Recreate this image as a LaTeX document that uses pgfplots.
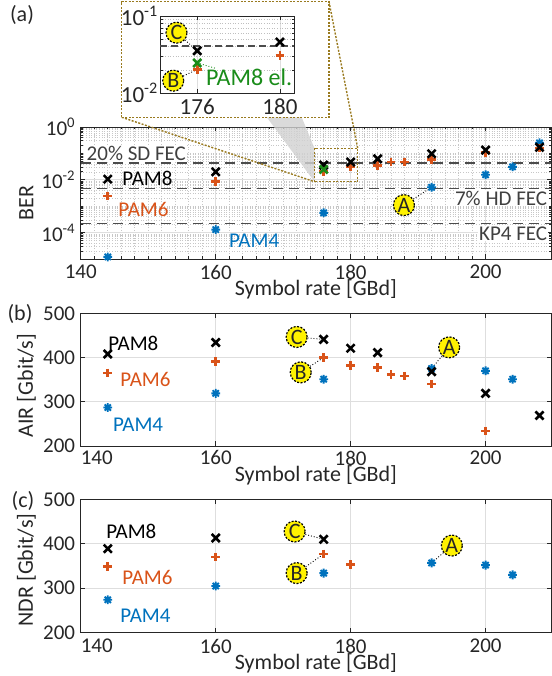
\documentclass[border=0pt]{standalone}
\usepackage{fontspec}
\setmainfont{Carlito}
\usepackage{pgfplots}
\pgfplotsset{compat=1.18}

\definecolor{mblue}{rgb}{0,0.447,0.741}
\definecolor{morange}{rgb}{0.85,0.325,0.098}
\definecolor{mgreen}{rgb}{0.1,0.55,0.1}
\definecolor{boxbrown}{rgb}{0.6,0.48,0.12}

\newcommand\fs{\fontsize{21}{25}\selectfont}
\newcommand\fl{\fontsize{22}{26}\selectfont}

% MATLAB style asterisk (8 arms)
\pgfdeclareplotmark{ast8}{%
  \pgfpathmoveto{\pgfqpoint{-\pgfplotmarksize}{0pt}}%
  \pgfpathlineto{\pgfqpoint{\pgfplotmarksize}{0pt}}%
  \pgfpathmoveto{\pgfqpoint{0pt}{-\pgfplotmarksize}}%
  \pgfpathlineto{\pgfqpoint{0pt}{\pgfplotmarksize}}%
  \pgfpathmoveto{\pgfqpoint{-.7071\pgfplotmarksize}{-.7071\pgfplotmarksize}}%
  \pgfpathlineto{\pgfqpoint{.7071\pgfplotmarksize}{.7071\pgfplotmarksize}}%
  \pgfpathmoveto{\pgfqpoint{-.7071\pgfplotmarksize}{.7071\pgfplotmarksize}}%
  \pgfpathlineto{\pgfqpoint{.7071\pgfplotmarksize}{-.7071\pgfplotmarksize}}%
  \pgfusepathqstroke}

\pgfplotsset{
  base/.style={
    scale only axis, clip=false,
    width=470.2pt, xmin=140, xmax=209.7,
    axis line style={draw=black!85, line width=0.8pt},
    every tick/.style={black!85, line width=0.8pt},
    major tick length=4.5pt, minor tick length=2.5pt, tick align=inside,
    major grid style={black!13, line width=0.8pt},
    minor grid style={black!22, line width=0.6pt, dotted},
    xmajorgrids, ymajorgrids,
    xtick={140,160,180,200},
    ticklabel style={font=\fs, text=black!85},
    xticklabel style={inner sep=0pt, yshift=-6pt},
    yticklabel style={inner sep=0pt, xshift=-5.5pt},
    label style={font=\fl, text=black!85, inner sep=0pt},
  },
  p8/.style={only marks, mark=x, mark size=5.7pt, line width=2.6pt, black},
  p6/.style={only marks, mark=+, mark size=4.3pt, line width=2.6pt, morange},
  p4/.style={only marks, mark=ast8, mark size=4.4pt, line width=1.9pt, mblue},
  fec/.style={black!70, line width=1.8pt, dash pattern=on 10pt off 6pt},
}
\tikzset{
  lab/.style={font=\fs, inner sep=1pt},
  circ/.style={circle, fill=yellow, draw=black, line width=1.2pt,
    dash pattern=on 2pt off 1.5pt, minimum size=21pt, inner sep=0pt,
    font=\fl, text=black!85},
  conn/.style={black, line width=0.9pt, dotted, shorten >=3pt},
}

\begin{document}
\begin{tikzpicture}[x=1pt,y=1pt]
\useasboundingbox (0,0) rectangle (551,676);

% ---------------- (a) BER ----------------
\begin{axis}[base, at={(80.8pt,417pt)}, anchor=south west, height=132pt,
  ymode=log, ymin=1e-5, ymax=1,
  ytick={1e-4,1e-2,1},
  yticklabels={10\textsuperscript{-4},10\textsuperscript{-2},10\textsuperscript{0}},
  minor ytick={2e-5,3e-5,4e-5,5e-5,6e-5,7e-5,8e-5,9e-5,
    2e-4,3e-4,4e-4,5e-4,6e-4,7e-4,8e-4,9e-4,1e-3,
    2e-3,3e-3,4e-3,5e-3,6e-3,7e-3,8e-3,9e-3,
    2e-2,3e-2,4e-2,5e-2,6e-2,7e-2,8e-2,9e-2,1e-1,
    2e-1,3e-1,4e-1,5e-1,6e-1,7e-1,8e-1,9e-1},
  yminorgrids, xminorgrids, minor x tick num=9,
  xticklabels={140,160,180,200},
  xlabel={Symbol rate [GBd]},
  xlabel style={at={(axis description cs:0.5,-0.232)}, anchor=center},
  ylabel={BER},
  ylabel style={at={(axis description cs:-0.1157,0.424)}, anchor=center},
]
\addplot[fec] coordinates {(140,0.042)(209.7,0.042)};
\addplot[fec] coordinates {(140,4.7e-3)(209.7,4.7e-3)};
\addplot[fec] coordinates {(140,2.2e-4)(209.7,2.2e-4)};

\addplot[p4] coordinates {(144,1.2e-5)(160,1.3e-4)(176,5.6e-4)(192,5.2e-3)(200,0.0155)(204,0.031)(208,0.25)};
\addplot[p6] coordinates {(144,0.0024)(160,0.0084)(176,0.0203)(180,0.031)(184,0.035)(186,0.047)(188,0.048)(192,0.06)(200,0.106)(208,0.16)};
\addplot[p8] coordinates {(144,0.0106)(160,0.020)(176,0.036)(180,0.047)(184,0.062)(192,0.097)(200,0.133)(208,0.17)};
\addplot[p8, mgreen] coordinates {(176,0.0247)};

\node[lab, anchor=west, fill=white, text=black!75] at (axis cs:140.7,0.1) {20\% SD FEC};
\node[lab, anchor=east, fill=white, text=black!75] at (axis cs:209.3,2.0e-3) {7\% HD FEC};
\node[lab, anchor=east, fill=white, text=black!75] at (axis cs:209.3,9.3e-5) {KP4 FEC};
\node[lab, anchor=west, text=black] at (axis cs:146,0.0116) {PAM8};
\node[lab, anchor=west, text=morange] at (axis cs:145.4,7.4e-4) {PAM6};
\node[lab, anchor=west, text=mblue] at (axis cs:161.8,5.1e-5) {PAM4};
\node[circ] (A) at (axis cs:187.9,1.1e-3) {A};
\draw[conn] (A) -- (axis cs:192,5.2e-3);
\end{axis}

% zoom wedge, boxes and connectors
\fill[black!18, opacity=0.8] (266.8,558.7) -- (301.7,558.7) -- (314.5,527.7) -- (314.5,494.3) -- cycle;
\draw[boxbrown, line width=1.4pt, dash pattern=on 2pt off 1.5pt] (314.5,494.3) rectangle (357.7,527.7);
\draw[boxbrown, line width=1.4pt, dash pattern=on 2pt off 1.5pt] (121.7,558.7) -- (314.5,494.3);
\draw[boxbrown, line width=1.4pt, dash pattern=on 2pt off 1.5pt] (329,674.3) -- (357.7,527.7);
\draw[boxbrown, fill=white, line width=1.4pt, dash pattern=on 2pt off 1.5pt] (121.7,558.7) rectangle (329,674.3);

% ---------------- inset ----------------
\begin{axis}[at={(160pt,582.7pt)}, anchor=south west, scale only axis, clip=false,
  width=134pt, height=77.3pt,
  xmin=174.2, xmax=180.68, ymode=log, ymin=0.01, ymax=0.1,
  axis background/.style={fill=white},
  axis line style={draw=black!85, line width=0.8pt},
  every tick/.style={black!85, line width=0.8pt},
  major tick length=4pt, minor tick length=2.5pt, tick align=inside,
  major grid style={black!13, line width=0.8pt},
  minor grid style={black!25, line width=0.6pt, dotted},
  xmajorgrids, yminorgrids,
  xtick={176,180}, xticklabels={176,180},
  ytick={0.01,0.1}, yticklabels={10\textsuperscript{-2},10\textsuperscript{-1}},
  minor ytick={0.02,0.03,0.04,0.05,0.06,0.07,0.08,0.09},
  ticklabel style={font=\fontsize{23}{27}\selectfont, text=black!85, inner sep=1pt},
  yticklabel style={xshift=-1pt},
  xticklabel style={yshift=-4pt},
]
\addplot[black!70, line width=1.6pt, dash pattern=on 7pt off 4pt] coordinates {(174.2,0.041)(180.68,0.041)};
\addplot[p6] coordinates {(176,0.0203)(180,0.031)};
\addplot[p8] coordinates {(176,0.0355)(180,0.046)};
\addplot[p8, mgreen] coordinates {(176,0.0247)};
\node[circ] (C) at (axis cs:175.0,0.0608) {C};
\node[circ] (B) at (axis cs:174.84,0.01456) {B};
\draw[conn] (C) -- (axis cs:176,0.0355);
\draw[conn] (B) -- (axis cs:176,0.0203);
\node[anchor=west, inner sep=1pt, font=\fontsize{24}{28}\selectfont, text=mgreen] at (axis cs:176.37,0.0162) {PAM8 el.};
\draw[mgreen, line width=0.9pt, dotted, shorten <=3pt] (axis cs:176,0.0247) -- (axis cs:176.9,0.021);
\end{axis}

% ---------------- (b) AIR ----------------
\begin{axis}[base, at={(80.8pt,230pt)}, anchor=south west, height=132.7pt,
  ymin=200, ymax=500, ytick={200,300,400,500}, yticklabels={200,300,400,500},
  xticklabels={\makebox[0pt][l]{140},160,180,200},
  xticklabel style={yshift=1.5pt},
  xlabel={Symbol rate [GBd]},
  xlabel style={at={(axis description cs:0.5,-0.218)}, anchor=center},
  ylabel={AIR [Gbit/s]},
  ylabel style={at={(axis description cs:-0.1157,0.454)}, anchor=center},
]
\addplot[p4] coordinates {(144,287)(160,319)(176,351)(192,375)(200,370)(204,351)};
\addplot[p6] coordinates {(144,365)(160,391)(176,400)(180,382)(184,377)(186,361)(188,358)(192,340)(200,234)};
\addplot[p8] coordinates {(144,408)(160,434)(176,441)(180,421)(184,411)(192,368)(200,319)(208,269)};
\node[lab, anchor=west, text=black] at (axis cs:143.9,433) {PAM8};
\node[lab, anchor=west, text=morange] at (axis cs:145.7,349.5) {PAM6};
\node[lab, anchor=west, text=mblue] at (axis cs:144.6,248) {PAM4};
\node[circ] (C) at (axis cs:172.0,446.5) {C};
\node[circ] (B) at (axis cs:172.6,366.5) {B};
\node[circ] (A) at (axis cs:194.6,423) {A};
\draw[conn] (C) -- (axis cs:176,441);
\draw[conn] (B) -- (axis cs:176,400);
\draw[conn] (A) -- (axis cs:192,375);
\end{axis}

% ---------------- (c) NDR ----------------
\begin{axis}[base, at={(80.8pt,43.3pt)}, anchor=south west, height=133.4pt,
  ymin=200, ymax=500, ytick={200,300,400,500}, yticklabels={200,300,400,500},
  xticklabels={\makebox[0pt][l]{140},160,180,200},
  xlabel={Symbol rate [GBd]},
  xlabel style={at={(axis description cs:0.5,-0.232)}, anchor=center},
  ylabel={NDR [Gbit/s]},
  ylabel style={at={(axis description cs:-0.1157,0.47)}, anchor=center},
]
\addplot[p4] coordinates {(144,274)(160,305)(176,334)(192,357)(200,352)(204,330)};
\addplot[p6] coordinates {(144,349)(160,370)(176,377)(180,353)};
\addplot[p8] coordinates {(144,389)(160,413)(176,410)};
\node[lab, anchor=west, text=black] at (axis cs:143.6,427) {PAM8};
\node[lab, anchor=west, text=morange] at (axis cs:146.0,324) {PAM6};
\node[lab, anchor=west, text=mblue] at (axis cs:145.7,239) {PAM4};
\node[circ] (C) at (axis cs:171.7,427.6) {C};
\node[circ] (B) at (axis cs:172.0,334) {B};
\node[circ] (A) at (axis cs:195.0,396) {A};
\draw[conn] (C) -- (axis cs:176,410);
\draw[conn] (B) -- (axis cs:176,377);
\draw[conn] (A) -- (axis cs:192,357);
\end{axis}

% panel letters
\node[font=\fl, text=black!85] at (22,661) {(a)};
\node[font=\fl, text=black!85] at (20,362) {(b)};
\node[font=\fl, text=black!85] at (23,175) {(c)};
\end{tikzpicture}
\end{document}
